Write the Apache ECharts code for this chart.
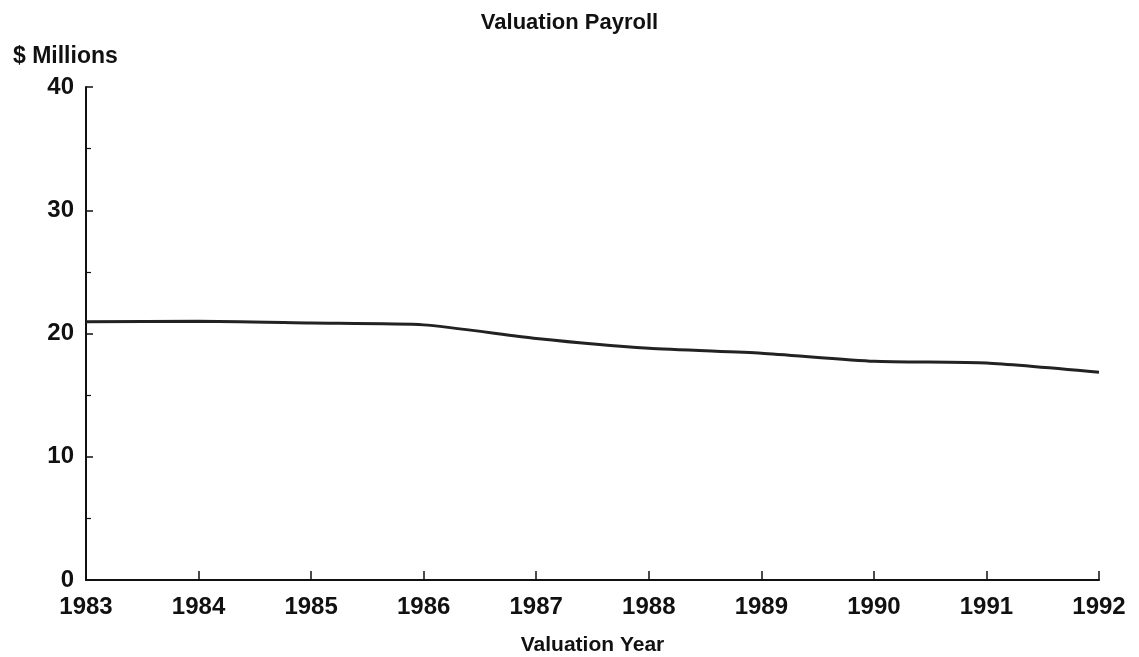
<!DOCTYPE html>
<html>
<head>
<meta charset="utf-8">
<script src="https://cdn.jsdelivr.net/npm/echarts@6/dist/echarts.min.js"></script>
<style>
html, body { margin: 0; padding: 0; background: #fff; }
#main { width: 1139px; height: 657px; }
</style>
</head>
<body>
<div id="main"></div>
<script>
// 数据
var years = ['1983', '1984', '1985', '1986', '1987', '1988', '1989', '1990', '1991', '1992'];
var payroll = [20.95, 21.0, 20.85, 20.7, 19.6, 18.8, 18.4, 17.75, 17.6, 16.85];

var font = 'Liberation Sans, Arial, sans-serif';
var myChart = echarts.init(document.getElementById('main'));

var option = {
    backgroundColor: '#fff',
    animation: false,
    title: [{
        text: 'Valuation Payroll',
        left: 'center',
        top: 7,
        textStyle: { fontFamily: font, fontSize: 22, fontWeight: 'bold', color: '#111' }
    }, {
        text: '$ Millions',
        left: 8,
        top: 40,
        textStyle: { fontFamily: font, fontSize: 23, fontWeight: 'bold', color: '#111' }
    }],
    grid: {
        left: 86,
        right: 40,
        top: 87,
        bottom: 77,
        outerBoundsMode: 'none'
    },
    xAxis: {
        type: 'category',
        data: years,
        boundaryGap: false,
        name: 'Valuation Year',
        nameLocation: 'middle',
        nameGap: 55,
        nameTextStyle: { fontFamily: font, fontSize: 21, fontWeight: 'bold', color: '#111' },
        axisLine: { lineStyle: { color: '#111', width: 2 } },
        axisTick: { inside: true, length: 9, lineStyle: { color: '#111', width: 1.5 } },
        axisLabel: { fontFamily: font, fontSize: 24, fontWeight: 'bold', color: '#111', margin: 15 },
        splitLine: { show: false }
    },
    yAxis: {
        type: 'value',
        min: 0,
        max: 40,
        interval: 10,
        axisLine: { show: true, lineStyle: { color: '#111', width: 2 } },
        axisTick: { show: true, inside: true, length: 7, lineStyle: { color: '#111', width: 1.5 } },
        minorTick: { show: true, splitNumber: 2, length: 5, lineStyle: { color: '#111', width: 1.2 } },
        axisLabel: { fontFamily: font, fontSize: 24, fontWeight: 'bold', color: '#111', margin: 12 },
        splitLine: { show: false }
    },
    series: [{
        type: 'line',
        data: payroll,
        showSymbol: false,
        smooth: 0.2,
        lineStyle: { color: '#222', width: 3 }
    }]
};

myChart.setOption(option);
</script>
</body>
</html>
